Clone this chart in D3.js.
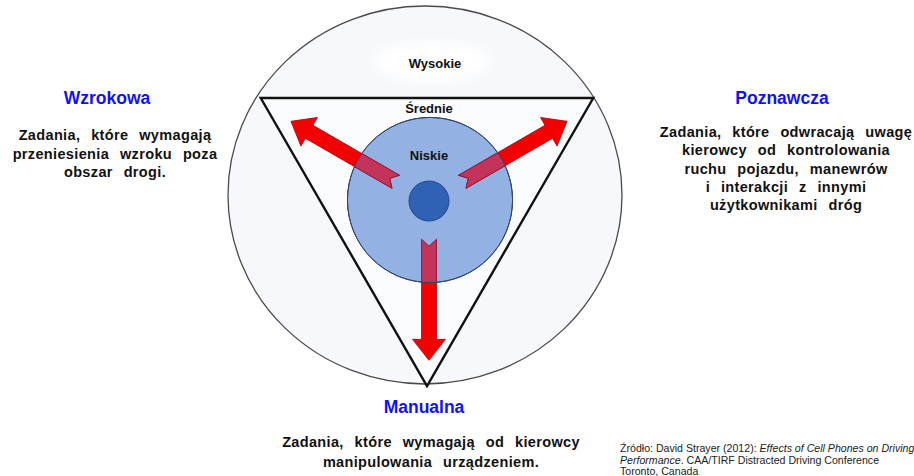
<!DOCTYPE html>
<meta charset="utf-8">
<style>
  body { margin: 0; background: #fff; }
  text { font-family: "Liberation Sans", Arial, sans-serif; }
  .title { fill: #1010ff; font-weight: bold; font-size: 17.5px; }
  .desc { fill: #111; font-weight: bold; font-size: 14.5px; letter-spacing: 0.35px; word-spacing: 6.5px; }
  .level { fill: #111; font-weight: bold; font-size: 13px; }
  .src { fill: #222; font-size: 10.6px; }
</style>
<body>
<script src="https://d3js.org/d3.v7.min.js"></script>
<script>
// distraction types, arranged round the triangle (angle in degrees, math convention)
var categories = ["Wzrokowa", "Poznawcza", "Manualna"];
var angles = [150, 30, 270];
var descriptions = [
  ["Zadania, które wymagają", "przeniesienia wzroku poza", "obszar drogi."],
  ["Zadania, które odwracają uwagę", "kierowcy od kontrolowania", "ruchu pojazdu, manewrów", "i interakcji z innymi", "użytkownikami dróg"],
  ["Zadania, które wymagają od kierowcy", "manipulowania urządzeniem."]
];
// levels of load, from inner circle outwards
var levels = ["Niskie", "Średnie", "Wysokie"];
var source = [
  [["Źródło: David Strayer (2012): ", false], ["Effects of Cell Phones on Driving", true]],
  [["Performance", true], [". CAA/TIRF Distracted Driving Conference", false]],
  [["Toronto, Canada", false]]
];

var W = 914, H = 476;
var cx = 427, cy = 194;

var svg = d3.select("body").append("svg")
    .attr("width", W).attr("height", H);

// radial scale: 0 = centre, 1 = triangle vertices
var r = d3.scaleLinear().domain([0, 1]).range([0, 192]);
function pt(a, k) {
  var t = a * Math.PI / 180;
  return [cx + r(k) * Math.cos(t), cy - r(k) * Math.sin(t)];
}

var defs = svg.append("defs");
defs.append("filter").attr("id", "soft")
  .append("feGaussianBlur").attr("stdDeviation", 6);

// outer circle (high)
svg.append("ellipse")
    .attr("cx", 425).attr("cy", 195).attr("rx", 197).attr("ry", 189)
    .attr("fill", "#f6f8fb").attr("stroke", "#4a4a4a").attr("stroke-width", 1.3);
svg.append("ellipse")
    .attr("cx", 432).attr("cy", 62).attr("rx", 58).attr("ry", 20)
    .attr("fill", "#fff").attr("filter", "url(#soft)");

// triangle (medium)
svg.append("polygon")
    .attr("points", angles.map(function(a) { return pt(a, 1).join(","); }).join(" "))
    .attr("fill", "#fbfcfd").attr("stroke", "#111").attr("stroke-width", 2.4)
    .attr("stroke-linejoin", "miter");

// inner circle (low)
var inner = { x: 430, y: 200, r: r(0.43) };
defs.append("clipPath").attr("id", "innerClip")
  .append("circle")
    .attr("cx", inner.x).attr("cy", inner.y).attr("r", inner.r);
svg.append("circle")
    .attr("cx", inner.x).attr("cy", inner.y).attr("r", inner.r)
    .attr("fill", "#93b2e3").attr("stroke", "#34426e").attr("stroke-width", 1);

// arrows
var a0 = 0.2, a1 = 0.83, sw = 15, hw = 33, hl = 21, notch = 7;
function arrowPath() {
  var x0 = r(a0), x1 = r(a1);
  return [[x0, -sw / 2], [x1 - hl, -sw / 2], [x1 - hl, -hw / 2], [x1, 0],
          [x1 - hl, hw / 2], [x1 - hl, sw / 2], [x0, sw / 2], [x0 + notch, 0]]
    .map(function(p) { return p.join(","); }).join(" ");
}
function arrowT(a) { return "translate(" + 429 + "," + 201 + ") rotate(" + (-a) + ")"; }
svg.selectAll(".arrow").data(angles).enter().append("polygon")
    .attr("class", "arrow")
    .attr("points", arrowPath())
    .attr("transform", arrowT)
    .attr("fill", "#f40000").attr("stroke", "#b80010").attr("stroke-width", 0.8);

// the part of each arrow lying inside the inner circle is tinted
svg.append("g").attr("clip-path", "url(#innerClip)")
  .selectAll(".tail").data(angles).enter().append("polygon")
    .attr("class", "tail")
    .attr("points", arrowPath())
    .attr("transform", arrowT)
    .attr("fill", "#c4345a").attr("stroke", "#8a1a40").attr("stroke-width", 0.8);
svg.append("circle")
    .attr("cx", inner.x).attr("cy", inner.y).attr("r", inner.r)
    .attr("fill", "none").attr("stroke", "#34426e").attr("stroke-width", 1);

// centre dot
svg.append("circle")
    .attr("cx", 429).attr("cy", 201).attr("r", 20)
    .attr("fill", "#2f62b4").attr("stroke", "#23488a").attr("stroke-width", 1);

// level labels
var levelY = [160, 113, 68];
svg.selectAll(".level").data(levels).enter().append("text")
    .attr("class", "level")
    .attr("x", function(d, i) { return i === 2 ? 435 : 429; })
    .attr("y", function(d, i) { return levelY[i]; })
    .attr("text-anchor", "middle")
    .text(function(d) { return d; });

// category labels and descriptions
var labelPos = [
  { x: 107, y: 104, dx: 115, dy: 140, lh: 18.5 },
  { x: 782, y: 104, dx: 786, dy: 137, lh: 18.3 },
  { x: 424, y: 413, dx: 431, dy: 447, lh: 20 }
];
var groups = svg.selectAll(".cat").data(categories).enter().append("g").attr("class", "cat");
groups.append("text")
    .attr("class", "title")
    .attr("x", function(d, i) { return labelPos[i].x; })
    .attr("y", function(d, i) { return labelPos[i].y; })
    .attr("text-anchor", "middle")
    .text(function(d) { return d; });
groups.each(function(d, i) {
  var p = labelPos[i];
  d3.select(this).selectAll(".desc").data(descriptions[i]).enter().append("text")
      .attr("class", "desc")
      .attr("x", p.dx)
      .attr("y", function(l, j) { return p.dy + j * p.lh; })
      .attr("text-anchor", "middle")
      .text(function(l) { return l; });
});

// source note
var src = svg.append("text").attr("class", "src");
source.forEach(function(line, i) {
  line.forEach(function(part, j) {
    var ts = src.append("tspan").text(part[0])
        .attr("font-style", part[1] ? "italic" : "normal");
    if (j === 0) ts.attr("x", 620).attr("y", 452 + i * 11.5);
  });
});
</script>
</body>
